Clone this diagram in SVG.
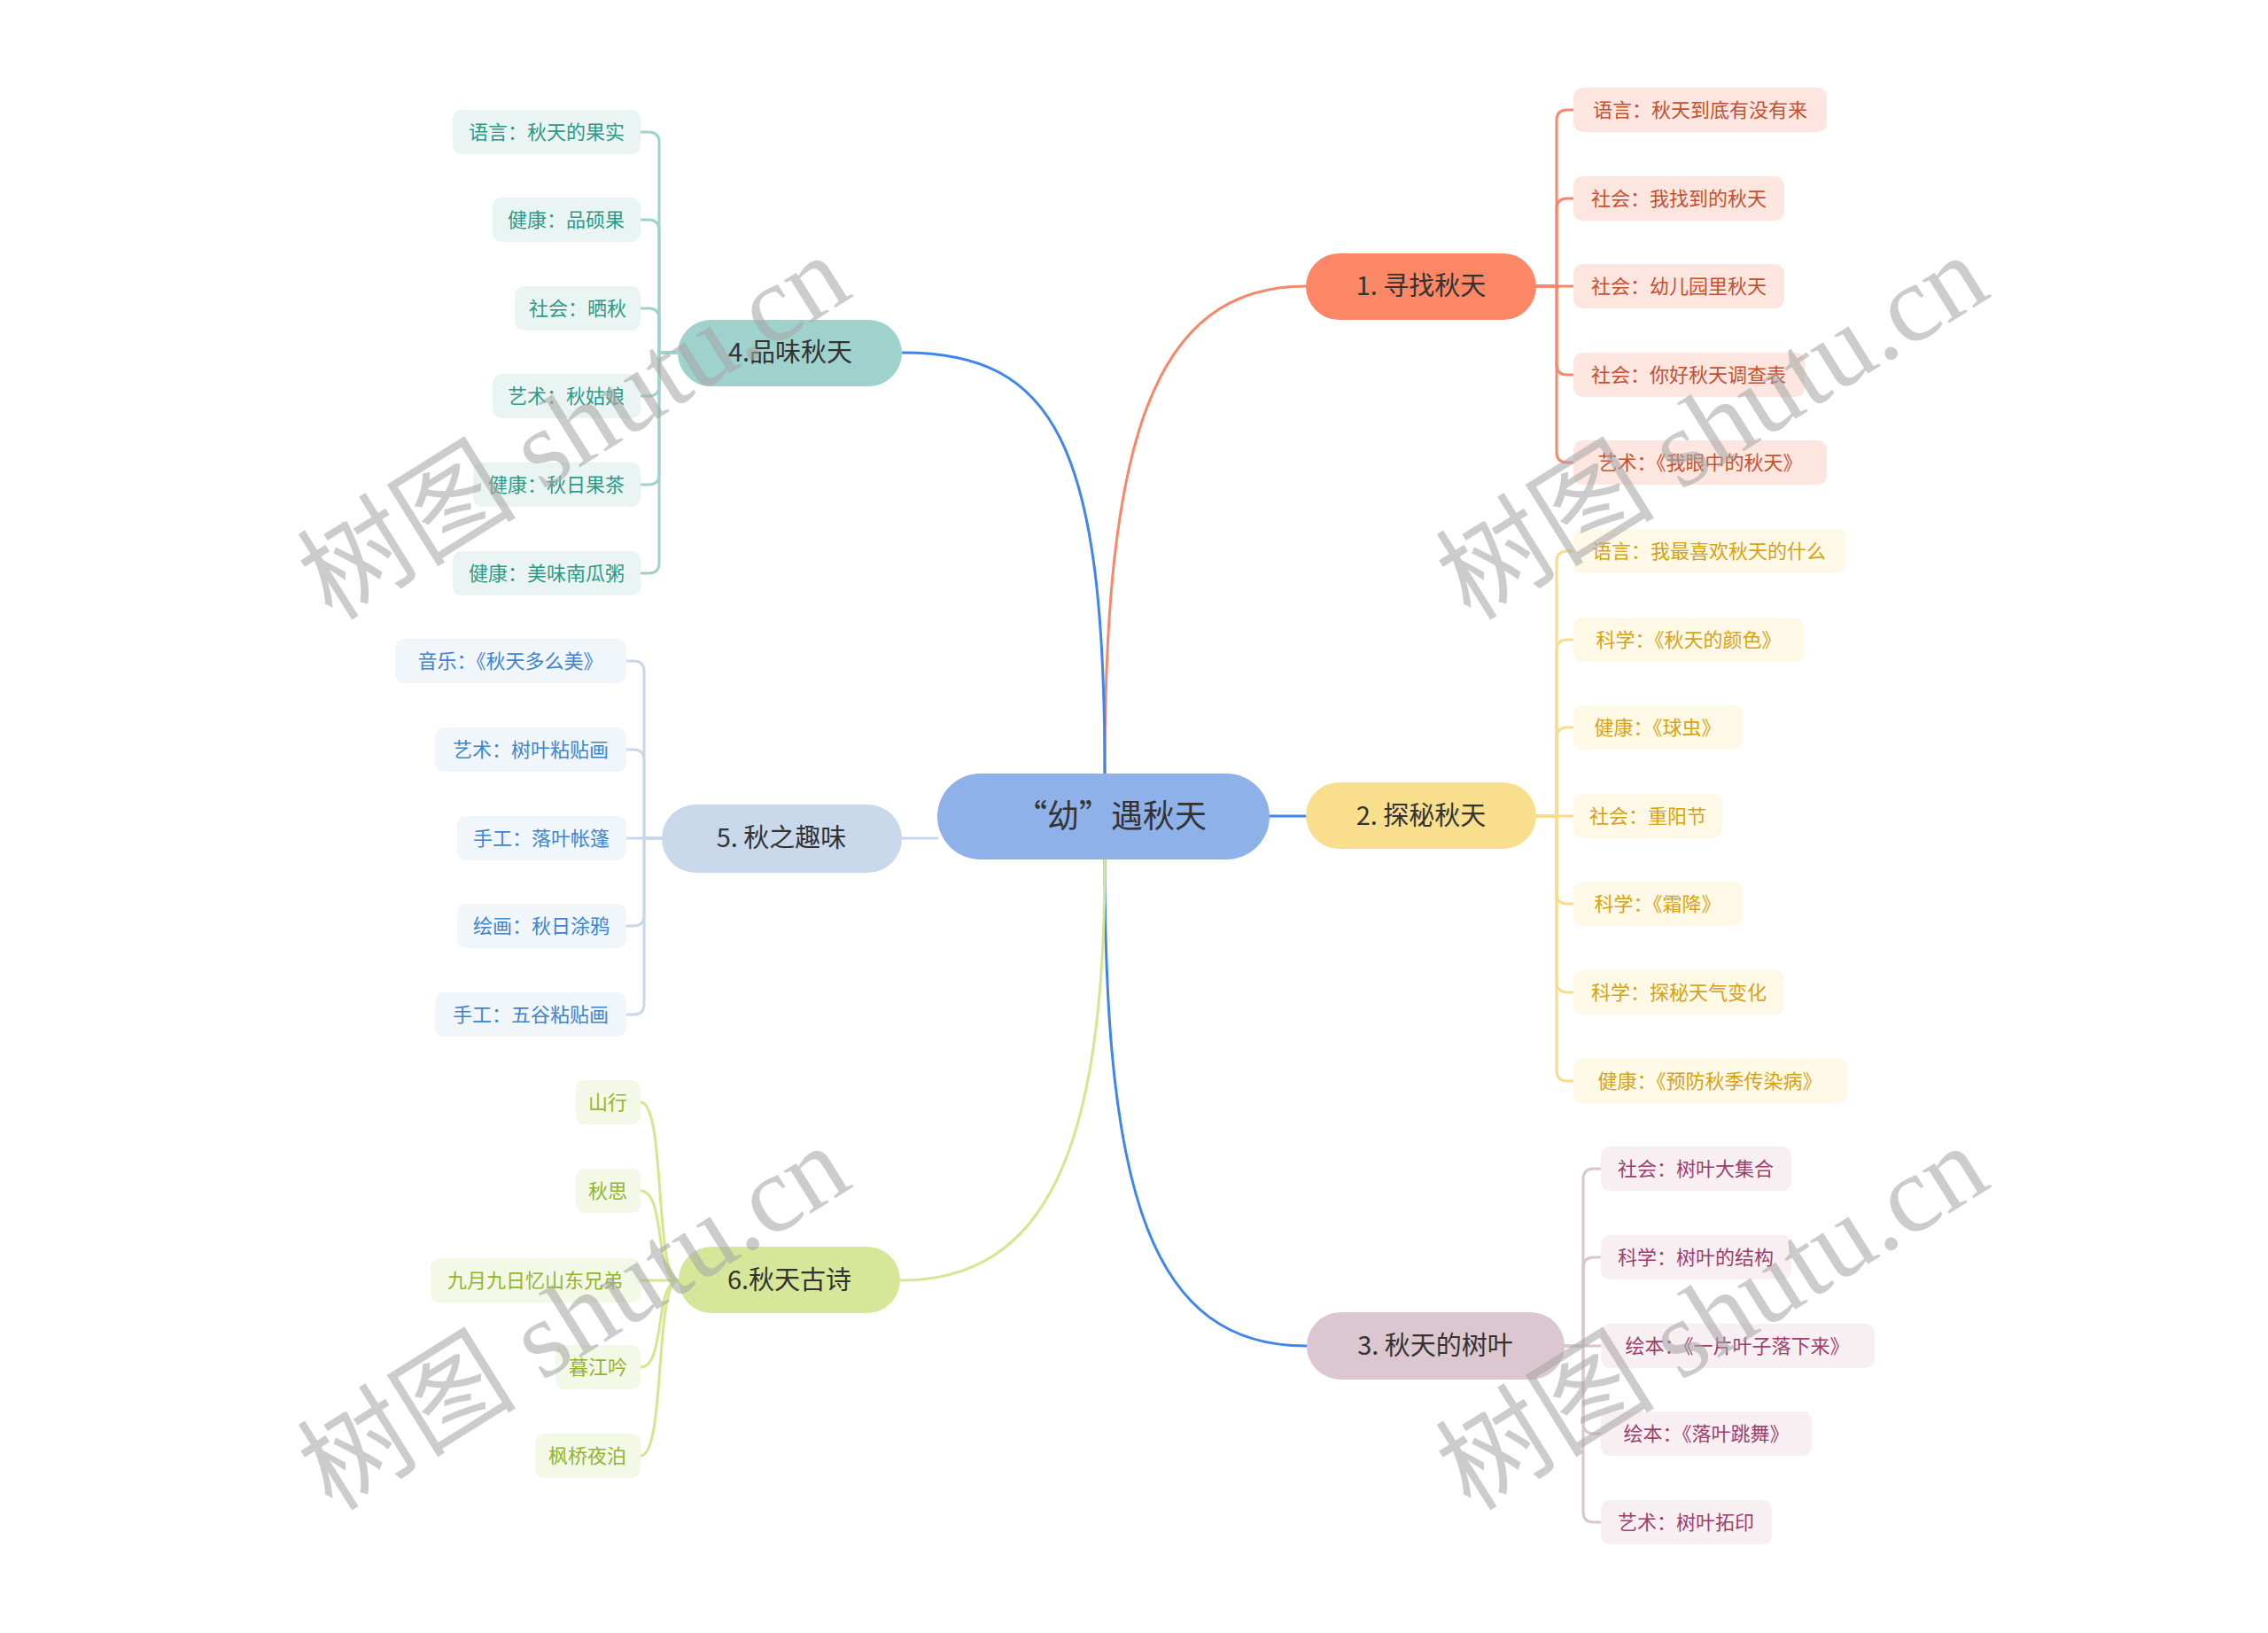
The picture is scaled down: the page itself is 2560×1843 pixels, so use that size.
<svg xmlns="http://www.w3.org/2000/svg" width="2560" height="1843" viewBox="0 0 2560 1843">
<style>
text{font-family:"Noto Sans CJK SC","Noto Sans",sans-serif}
.main{font-size:29px;fill:#333;text-anchor:middle}
.leaf{font-size:22px;text-anchor:middle}
.ln{fill:none;stroke-width:3;stroke-linecap:round}
.wm{font-family:"Liberation Serif","Noto Sans CJK SC",serif;font-size:124px;fill:#a8a8a8;opacity:0.58}
.g1 rect.l{fill:#fde6df}.g1 text.leaf{fill:#c4502f}
.g2 rect.l{fill:#fef8e6}.g2 text.leaf{fill:#d6a315}
.g3 rect.l{fill:#f8eff2}.g3 text.leaf{fill:#9c3f6c}
.g4 rect.l{fill:#eaf5f3}.g4 text.leaf{fill:#2f9987}
.g5 rect.l{fill:#f1f6fb}.g5 text.leaf{fill:#3f84cf}
.g6 rect.l{fill:#f4f8e6}.g6 text.leaf{fill:#93b52a}
</style>
<rect width="2560" height="1843" fill="#ffffff"/>
<g id="connectors">
<path class="ln" stroke="#f8876a" d="M1247 873 C1247 500 1300 323 1474 323"/>
<path class="ln" stroke="#3d86ee" d="M1247 873 C1247 500 1190 398 1019 398"/>
<path class="ln" stroke="#3d86ee" d="M1433 921 H1474"/>
<path class="ln" stroke="#c8d8ea" d="M1058 946 H1019"/>
<path class="ln" stroke="#3d86ee" d="M1247 970 C1247 1350 1300 1519 1474 1519"/>
<path class="ln" stroke="#d4e68e" d="M1247 970 C1247 1300 1180 1445 1016 1445"/>
<g stroke="#f8876a" class="ln">
<path class="ln" d="M1734 323 H1757 V136 Q1757 124 1769 124 H1776"/>
<path class="ln" d="M1734 323 H1757 V236 Q1757 224 1769 224 H1776"/>
<path class="ln" d="M1734 323 H1776"/>
<path class="ln" d="M1734 323 H1757 V411 Q1757 423 1769 423 H1776"/>
<path class="ln" d="M1734 323 H1757 V510 Q1757 522 1769 522 H1776"/>
</g>
<g stroke="#f8dc8a" class="ln">
<path class="ln" d="M1734 921 H1757 V634 Q1757 622 1769 622 H1776"/>
<path class="ln" d="M1734 921 H1757 V734 Q1757 722 1769 722 H1776"/>
<path class="ln" d="M1734 921 H1757 V833 Q1757 821 1769 821 H1776"/>
<path class="ln" d="M1734 921 H1776"/>
<path class="ln" d="M1734 921 H1757 V1008 Q1757 1020 1769 1020 H1776"/>
<path class="ln" d="M1734 921 H1757 V1108 Q1757 1120 1769 1120 H1776"/>
<path class="ln" d="M1734 921 H1757 V1208 Q1757 1220 1769 1220 H1776"/>
</g>
<g stroke="#dcc4cf" class="ln">
<path class="ln" d="M1766 1519 H1787 V1331 Q1787 1319 1799 1319 H1807"/>
<path class="ln" d="M1766 1519 H1787 V1431 Q1787 1419 1799 1419 H1807"/>
<path class="ln" d="M1766 1519 H1807"/>
<path class="ln" d="M1766 1519 H1787 V1606 Q1787 1618 1799 1618 H1807"/>
<path class="ln" d="M1766 1519 H1787 V1706 Q1787 1718 1799 1718 H1807"/>
</g>
<g stroke="#9fd2cb" class="ln">
<path class="ln" d="M766 398 H744 V161 Q744 149 732 149 H723"/>
<path class="ln" d="M766 398 H744 V260 Q744 248 732 248 H723"/>
<path class="ln" d="M766 398 H744 V360 Q744 348 732 348 H723"/>
<path class="ln" d="M766 398 H744 V435 Q744 447 732 447 H723"/>
<path class="ln" d="M766 398 H744 V535 Q744 547 732 547 H723"/>
<path class="ln" d="M766 398 H744 V635 Q744 647 732 647 H723"/>
</g>
<g stroke="#c8d8ea" class="ln">
<path class="ln" d="M748 946 H727 V758 Q727 746 715 746 H707"/>
<path class="ln" d="M748 946 H727 V858 Q727 846 715 846 H707"/>
<path class="ln" d="M748 946 H707"/>
<path class="ln" d="M748 946 H727 V1033 Q727 1045 715 1045 H707"/>
<path class="ln" d="M748 946 H727 V1133 Q727 1145 715 1145 H707"/>
</g>
<g stroke="#d4e68e" class="ln">
<path class="ln" d="M766 1445 C738 1445 752 1244 723 1244"/>
<path class="ln" d="M766 1445 C738 1445 752 1344 723 1344"/>
<path class="ln" d="M766 1445 H723"/>
<path class="ln" d="M766 1445 C738 1445 752 1543 723 1543"/>
<path class="ln" d="M766 1445 C738 1445 752 1643 723 1643"/>
</g>
</g>

<g id="root">
<rect x="1058" y="873" width="375" height="97" rx="48.5" fill="#8fb1e9"/>
<text x="1254" y="934" style="font-size:36px;fill:#333;text-anchor:middle">“幼”遇秋天</text>
</g>

<g id="n1" class="g1">
<rect x="1474" y="286" width="260" height="75" rx="37.5" fill="#fb8766"/>
<text class="main" x="1604" y="333">1. 寻找秋天</text>
</g>
<g id="n1-leaves" class="g1">
<g id="n1a"><rect class="l" x="1776" y="99" width="286" height="50" rx="10"/><text class="leaf" x="1919" y="132">语言：秋天到底有没有来</text></g>
<g id="n1b"><rect class="l" x="1776" y="199" width="238" height="50" rx="10"/><text class="leaf" x="1895" y="232">社会：我找到的秋天</text></g>
<g id="n1c"><rect class="l" x="1776" y="298" width="238" height="50" rx="10"/><text class="leaf" x="1895" y="331">社会：幼儿园里秋天</text></g>
<g id="n1d"><rect class="l" x="1776" y="398" width="261" height="50" rx="10"/><text class="leaf" x="1906" y="431">社会：你好秋天调查表</text></g>
<g id="n1e"><rect class="l" x="1776" y="497" width="286" height="50" rx="10"/><text class="leaf" x="1919" y="530">艺术：《我眼中的秋天》</text></g>
</g>

<g id="n2" class="g2">
<rect x="1474" y="883" width="260" height="75" rx="37.5" fill="#f8de8d"/>
<text class="main" x="1604" y="931">2. 探秘秋天</text>
</g>
<g id="n2-leaves" class="g2">
<g id="n2a"><rect class="l" x="1776" y="597" width="307" height="50" rx="10"/><text class="leaf" x="1929" y="630">语言：我最喜欢秋天的什么</text></g>
<g id="n2b"><rect class="l" x="1776" y="697" width="260" height="50" rx="10"/><text class="leaf" x="1906" y="730">科学：《秋天的颜色》</text></g>
<g id="n2c"><rect class="l" x="1776" y="796" width="191" height="50" rx="10"/><text class="leaf" x="1871" y="829">健康：《球虫》</text></g>
<g id="n2d"><rect class="l" x="1776" y="896" width="168" height="50" rx="10"/><text class="leaf" x="1860" y="929">社会：重阳节</text></g>
<g id="n2e"><rect class="l" x="1776" y="995" width="191" height="50" rx="10"/><text class="leaf" x="1871" y="1028">科学：《霜降》</text></g>
<g id="n2f"><rect class="l" x="1776" y="1095" width="238" height="50" rx="10"/><text class="leaf" x="1895" y="1128">科学：探秘天气变化</text></g>
<g id="n2g"><rect class="l" x="1776" y="1195" width="309" height="50" rx="10"/><text class="leaf" x="1930" y="1228">健康：《预防秋季传染病》</text></g>
</g>

<g id="n3" class="g3">
<rect x="1475" y="1481" width="291" height="76" rx="38" fill="#dcc6cf"/>
<text class="main" x="1620" y="1529">3. 秋天的树叶</text>
</g>
<g id="n3-leaves" class="g3">
<g id="n3a"><rect class="l" x="1807" y="1294" width="215" height="50" rx="10"/><text class="leaf" x="1914" y="1327">社会：树叶大集合</text></g>
<g id="n3b"><rect class="l" x="1807" y="1394" width="215" height="50" rx="10"/><text class="leaf" x="1914" y="1427">科学：树叶的结构</text></g>
<g id="n3c"><rect class="l" x="1807" y="1494" width="309" height="50" rx="10"/><text class="leaf" x="1961" y="1527">绘本：《一片叶子落下来》</text></g>
<g id="n3d"><rect class="l" x="1807" y="1593" width="238" height="50" rx="10"/><text class="leaf" x="1926" y="1626">绘本：《落叶跳舞》</text></g>
<g id="n3e"><rect class="l" x="1807" y="1693" width="193" height="50" rx="10"/><text class="leaf" x="1903" y="1726">艺术：树叶拓印</text></g>
</g>

<g id="n4" class="g4">
<rect x="765" y="361" width="253" height="75" rx="37.5" fill="#9fd2cc"/>
<text class="main" x="892" y="408">4.品味秋天</text>
</g>
<g id="n4-leaves" class="g4">
<g id="n4a"><rect class="l" x="511" y="124" width="212" height="50" rx="10"/><text class="leaf" x="617" y="157">语言：秋天的果实</text></g>
<g id="n4b"><rect class="l" x="556" y="223" width="167" height="50" rx="10"/><text class="leaf" x="639" y="256">健康：品硕果</text></g>
<g id="n4c"><rect class="l" x="581" y="323" width="142" height="50" rx="10"/><text class="leaf" x="652" y="356">社会：晒秋</text></g>
<g id="n4d"><rect class="l" x="556" y="422" width="167" height="50" rx="10"/><text class="leaf" x="639" y="455">艺术：秋姑娘</text></g>
<g id="n4e"><rect class="l" x="534" y="522" width="189" height="50" rx="10"/><text class="leaf" x="628" y="555">健康：秋日果茶</text></g>
<g id="n4f"><rect class="l" x="511" y="622" width="212" height="50" rx="10"/><text class="leaf" x="617" y="655">健康：美味南瓜粥</text></g>
</g>

<g id="n5" class="g5">
<rect x="747" y="908" width="271" height="77" rx="38.5" fill="#c9d9eb"/>
<text class="main" x="882" y="956">5. 秋之趣味</text>
</g>
<g id="n5-leaves" class="g5">
<g id="n5a"><rect class="l" x="446" y="721" width="261" height="50" rx="10"/><text class="leaf" x="576" y="754">音乐：《秋天多么美》</text></g>
<g id="n5b"><rect class="l" x="491" y="821" width="216" height="50" rx="10"/><text class="leaf" x="599" y="854">艺术：树叶粘贴画</text></g>
<g id="n5c"><rect class="l" x="516" y="921" width="191" height="50" rx="10"/><text class="leaf" x="611" y="954">手工：落叶帐篷</text></g>
<g id="n5d"><rect class="l" x="516" y="1020" width="191" height="50" rx="10"/><text class="leaf" x="611" y="1053">绘画：秋日涂鸦</text></g>
<g id="n5e"><rect class="l" x="491" y="1120" width="216" height="50" rx="10"/><text class="leaf" x="599" y="1153">手工：五谷粘贴画</text></g>
</g>

<g id="n6" class="g6">
<rect x="766" y="1407" width="250" height="75" rx="37.5" fill="#d7e799"/>
<text class="main" x="891" y="1455">6.秋天古诗</text>
</g>
<g id="n6-leaves" class="g6">
<g id="n6a"><rect class="l" x="650" y="1219" width="73" height="50" rx="10"/><text class="leaf" x="686" y="1252">山行</text></g>
<g id="n6b"><rect class="l" x="650" y="1319" width="73" height="50" rx="10"/><text class="leaf" x="686" y="1352">秋思</text></g>
<g id="n6c"><rect class="l" x="486" y="1420" width="237" height="50" rx="10"/><text class="leaf" x="604" y="1453">九月九日忆山东兄弟</text></g>
<g id="n6d"><rect class="l" x="627" y="1518" width="96" height="50" rx="10"/><text class="leaf" x="675" y="1551">暮江吟</text></g>
<g id="n6e"><rect class="l" x="604" y="1618" width="119" height="50" rx="10"/><text class="leaf" x="663" y="1651">枫桥夜泊</text></g>
</g>

<g id="watermarks">
<text class="wm" transform="translate(375 702) rotate(-32)">树图 shutu.cn</text>
<text class="wm" transform="translate(1660 702) rotate(-32)">树图 shutu.cn</text>
<text class="wm" transform="translate(375 1707) rotate(-32)">树图 shutu.cn</text>
<text class="wm" transform="translate(1660 1707) rotate(-32)">树图 shutu.cn</text>
</g>
</svg>
